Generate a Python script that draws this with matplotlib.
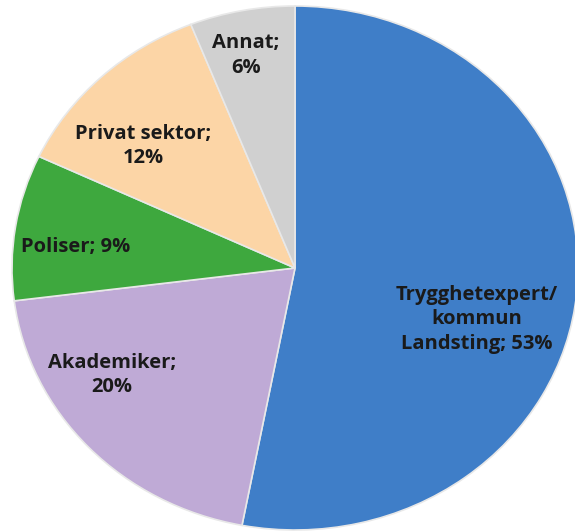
import matplotlib.pyplot as plt
import numpy as np

# data
kategorier = ["Trygghetexpert/\nkommun\nLandsting", "Akademiker", "Poliser",
              "Privat sektor", "Annat"]
andelar = [53, 20, 9, 12, 6]
etiketter = ["Trygghetexpert/\nkommun\nLandsting; 53%", "Akademiker;\n20%",
             "Poliser; 9%", "Privat sektor;\n12%", "Annat;\n6%"]

farger = ["#3f7ec8", "#bfaad6", "#3ea83e", "#fcd5a6", "#d0d0d0"]
# label placement (angle in degrees, radius) inside each slice
etikett_pos = [(-17, 0.67), (-147.8, 0.765), (174, 0.78), (139, 0.71), (102, 0.83)]

fig = plt.figure(figsize=(5.75, 5.32), dpi=100)
ax = fig.add_axes([0, 0, 1, 1])

wedges, _ = ax.pie(andelar, colors=farger, startangle=90, counterclock=False,
                   radius=1.0,
                   wedgeprops=dict(edgecolor="#e8e8e8", linewidth=1.2))

for txt, (ang, r) in zip(etiketter, etikett_pos):
    a = np.radians(ang)
    ax.text(r * np.cos(a), r * np.sin(a), txt, ha="center", va="center",
            fontsize=14.5, fontweight="bold", family="Open Sans",
            color="#1a1a1a", linespacing=1.3)

# slightly elliptical pie as in the original
ax.set_aspect("auto")
ax.set_xlim(-295 / 283, 280 / 283)
ax.set_ylim(-264 / 262, 268 / 262)
ax.axis("off")

fig.savefig("out.png", dpi=100)
